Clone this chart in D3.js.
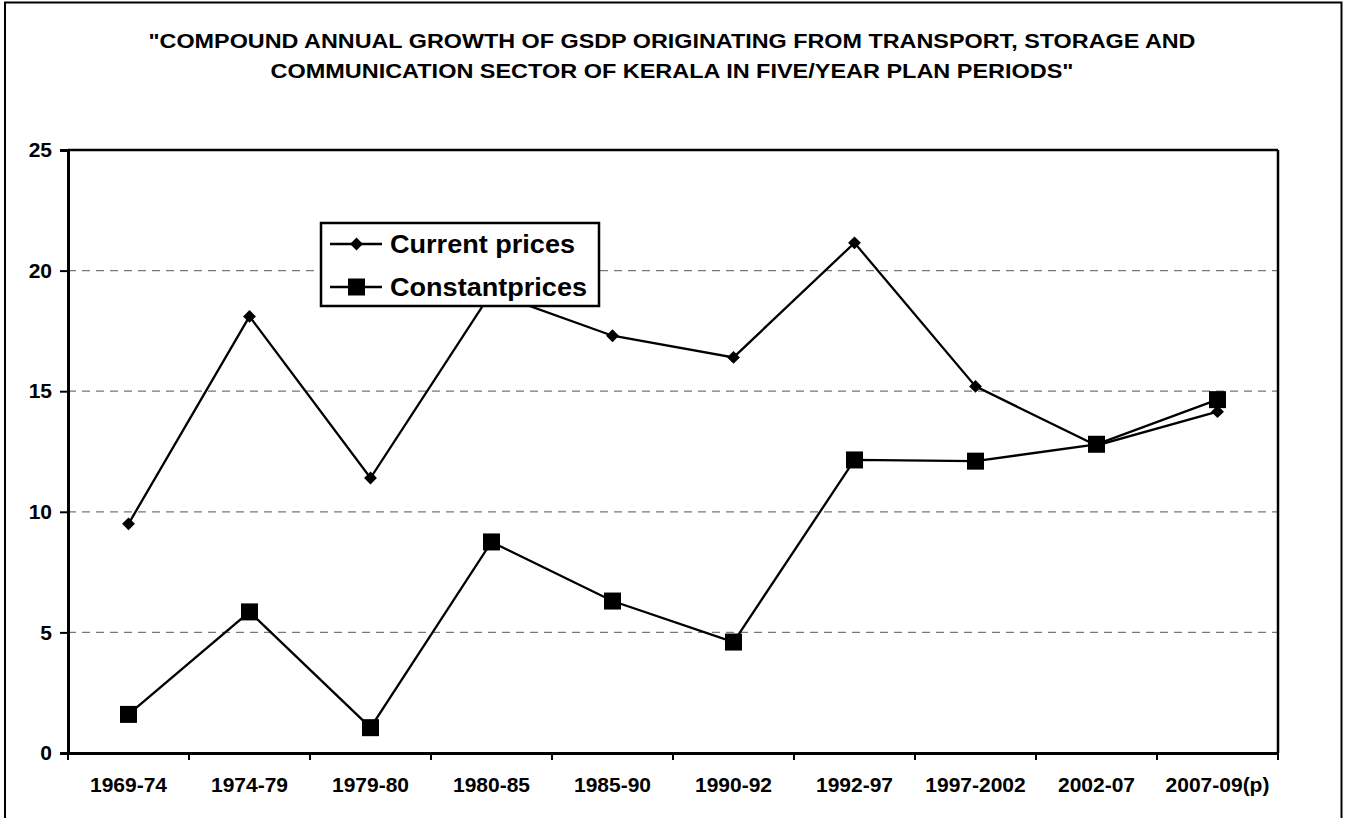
<!DOCTYPE html>
<html><head><meta charset="utf-8">
<script src="https://cdn.jsdelivr.net/npm/d3@7"></script>
<style>body{margin:0;background:#fff}svg{display:block;font-family:Arial,"Liberation Sans",sans-serif}</style>
</head><body><svg id="c" width="1347" height="818"></svg>
<script>
const categories=["1969-74","1974-79","1979-80","1980-85","1985-90","1990-92","1992-97","1997-2002","2002-07","2007-09(p)"];
const currentPrices=[9.5,18.1,11.4,19.1,17.3,16.4,21.15,15.2,12.75,14.15];
const constantPrices=[1.6,5.85,1.05,8.75,6.3,4.6,12.15,12.1,12.8,14.65];
const yTicks=[0,5,10,15,20,25];
const titleLines=['"COMPOUND ANNUAL GROWTH OF GSDP ORIGINATING FROM TRANSPORT, STORAGE AND','COMMUNICATION SECTOR OF KERALA IN FIVE/YEAR PLAN PERIODS"'];
const seriesNames=["Current prices","Constantprices"];

const FF="Arial,'Liberation Sans',sans-serif";
const svg=d3.select("#c");
const L=68,R=1278,T=150,B=753;
svg.append("rect").attr("x",5).attr("y",2.5).attr("width",1336.5).attr("height",830).attr("fill","none").attr("stroke","#000").attr("stroke-width",2);
const titleW=[1047,803];
svg.selectAll("text.title").data(titleLines).join("text").attr("class","title")
 .attr("x",672).attr("y",(d,i)=>48+i*30).attr("text-anchor","middle").attr("font-weight","bold").attr("font-size",21)
 .attr("textLength",(d,i)=>titleW[i]).attr("lengthAdjust","spacingAndGlyphs").text(d=>d);

const x=d3.scaleBand().domain(categories).range([L,R]);
const y=d3.scaleLinear().domain([0,25]).range([B,T]);
// gridlines
svg.append("g").selectAll("line").data(yTicks.filter(t=>t>0&&t<25)).join("line")
 .attr("x1",L).attr("x2",R).attr("y1",d=>y(d)).attr("y2",d=>y(d))
 .attr("stroke","#777").attr("stroke-width",1.2).attr("stroke-dasharray","8,6");
// frame
svg.append("line").attr("x1",L).attr("x2",R).attr("y1",T).attr("y2",T).attr("stroke","#000").attr("stroke-width",2.5);
svg.append("line").attr("x1",R).attr("x2",R).attr("y1",T).attr("y2",B).attr("stroke","#000").attr("stroke-width",2.5);
const ya=svg.append("g").attr("transform",`translate(${L},0)`).call(d3.axisLeft(y).tickValues(yTicks).tickSize(8).tickPadding(8));
ya.select(".domain").attr("stroke-width",3);
ya.selectAll(".tick line").attr("stroke-width",2);
ya.selectAll("text").style("font-size","21px").style("font-weight","bold").style("font-family",FF);
const xa=svg.append("g").attr("transform",`translate(0,${B})`).call(d3.axisBottom(x).tickSize(0).tickPadding(24));
xa.select(".domain").attr("stroke-width",3);
xa.selectAll("text").style("font-size","21px").style("font-weight","bold").style("font-family",FF);
svg.append("g").selectAll("line").data(d3.range(categories.length+1)).join("line")
 .attr("x1",i=>L+i*x.step()).attr("x2",i=>L+i*x.step()).attr("y1",B).attr("y2",B+7).attr("stroke","#000").attr("stroke-width",2);

const cx=d=>x(d)+x.bandwidth()/2;
const line=d3.line().x((d,i)=>cx(categories[i])).y(d=>y(d));
svg.append("path").datum(currentPrices).attr("d",line).attr("fill","none").attr("stroke","#000").attr("stroke-width",2.3);
svg.append("path").datum(constantPrices).attr("d",line).attr("fill","none").attr("stroke","#000").attr("stroke-width",2.3);
const diamond=d3.symbol().type(d3.symbolDiamond2).size(105);
svg.append("g").selectAll("path").data(currentPrices).join("path")
 .attr("d",diamond).attr("transform",(d,i)=>`translate(${cx(categories[i])},${y(d)})`).attr("fill","#000");
svg.append("g").selectAll("rect").data(constantPrices).join("rect")
 .attr("x",(d,i)=>cx(categories[i])-8.5).attr("y",d=>y(d)-8.5).attr("width",17).attr("height",17).attr("fill","#000");

// legend
const legW=[185,197];
const lg=svg.append("g");
lg.append("rect").attr("x",321).attr("y",223).attr("width",278).attr("height",83).attr("fill","#fff").attr("stroke","#000").attr("stroke-width",2.5);
seriesNames.forEach((n,i)=>{
 const yy=244+i*43;
 lg.append("line").attr("x1",330).attr("x2",382).attr("y1",yy).attr("y2",yy).attr("stroke","#000").attr("stroke-width",2.3);
 if(i===0) lg.append("path").attr("d",diamond).attr("transform",`translate(356.5,${yy})`).attr("fill","#000");
 else lg.append("rect").attr("x",348).attr("y",yy-8.5).attr("width",17).attr("height",17).attr("fill","#000");
 lg.append("text").attr("x",390).attr("y",yy+9).attr("font-size",26).attr("font-weight","bold")
  .attr("textLength",legW[i]).attr("lengthAdjust","spacingAndGlyphs").text(n);
});
</script></body></html>
